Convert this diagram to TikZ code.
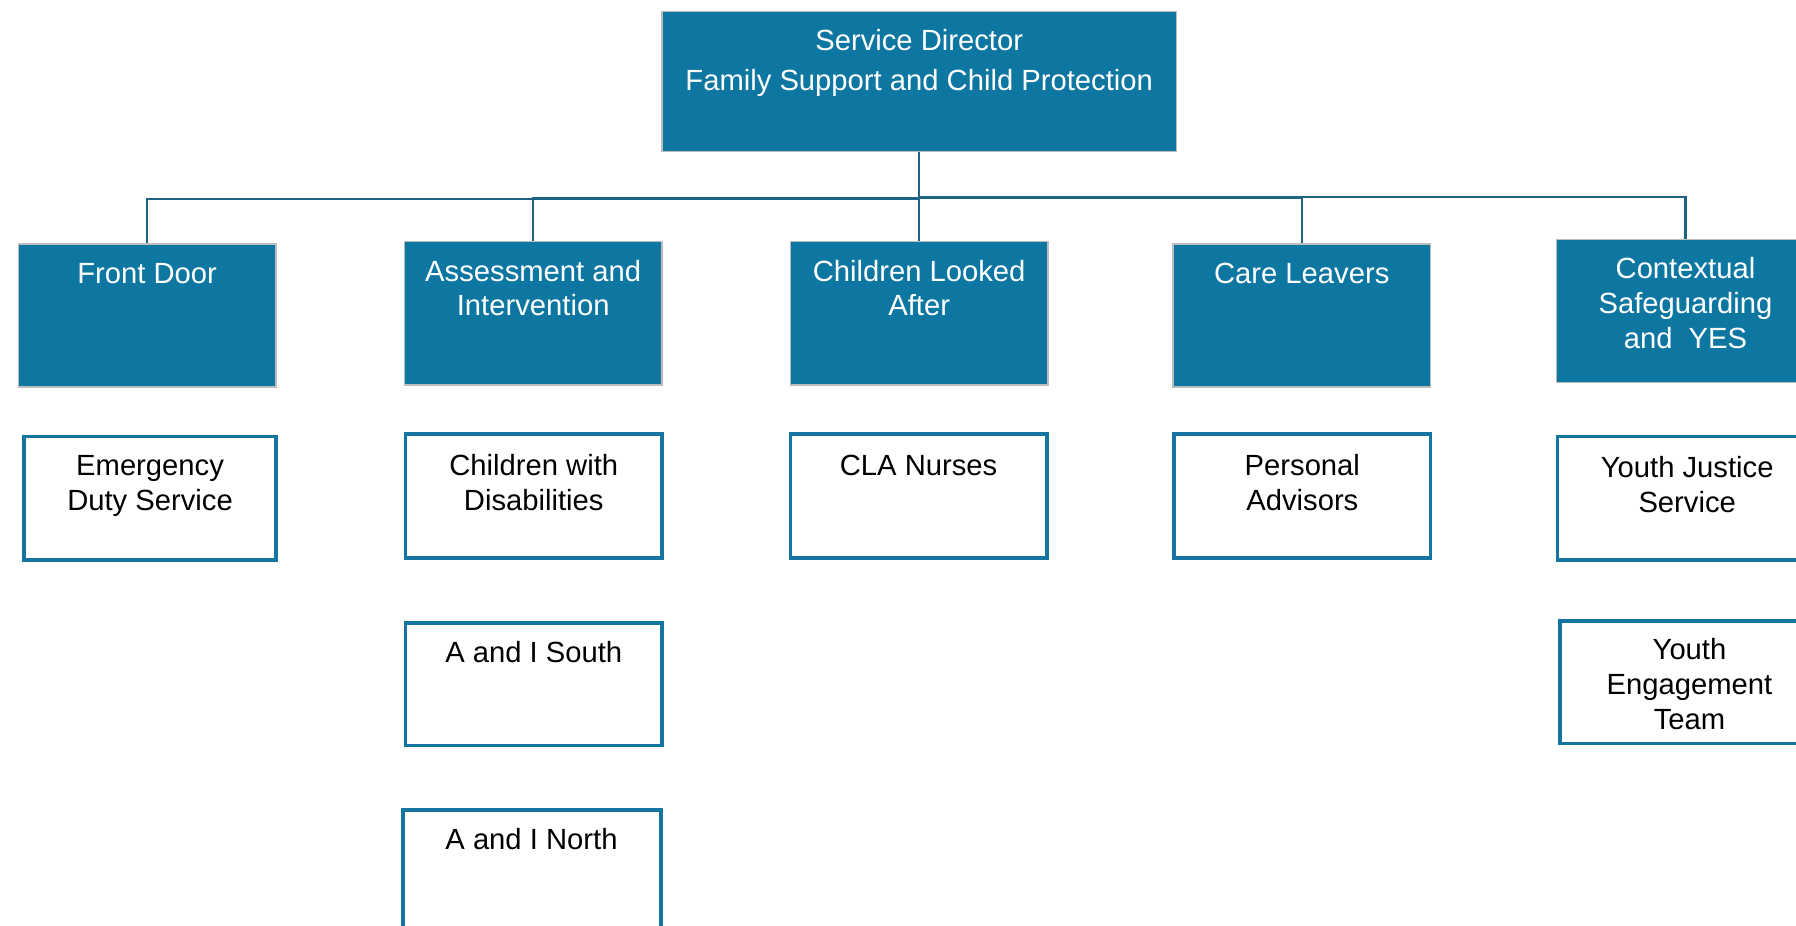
\documentclass[tikz,border=0pt]{standalone}
\usepackage{fontspec}
\setmainfont{Liberation Sans}
\definecolor{headfill}{HTML}{0E77A1}
\definecolor{headborder}{HTML}{BDBDBD}
\definecolor{subborder}{HTML}{1674A0}
\definecolor{connline}{HTML}{1E6384}
\begin{document}
\begin{tikzpicture}[x=1pt,y=-1pt,
  headbox/.style={draw=headborder, line width=1.2pt, fill=headfill, rectangle, inner sep=0pt},
  subbox/.style={draw=subborder, line width=3pt, fill=white, rectangle, inner sep=0pt},
  headtxt/.style={text=white, align=center, inner sep=0pt, font=\fontsize{25.5}{30.5}\selectfont},
  subtxt/.style={text=black, align=center, inner sep=0pt, font=\fontsize{25.5}{30.5}\selectfont},
  conn/.style={draw=connline, line width=1.8pt}]
\useasboundingbox (0,0) rectangle (1568,808);

% top box
\node[headbox, minimum width=449pt, minimum height=122pt] (sd) at (802.5,71) {};
\node[headtxt, font=\fontsize{25.5}{35}\selectfont] (sdt) at (802.5,55) {Service Director\\Family Support and Child Protection};

% level 1
\node[headbox, minimum width=225pt, minimum height=125pt] (fd) at (128.5,275.5) {};
\node[headbox, minimum width=225pt, minimum height=125pt] (ai) at (465.5,273.5) {};
\node[headbox, minimum width=225pt, minimum height=125pt] (cla) at (802.5,273.5) {};
\node[headbox, minimum width=225pt, minimum height=125pt] (cl) at (1136.5,275.5) {};
\node[headbox, minimum width=225pt, minimum height=125pt] (cs) at (1471.5,271.5) {};

\node[headtxt] (fdt) at (128.5,238.5) {Front Door};
\node[headtxt] (ait) at (465.5,251.5) {Assessment and\\Intervention};
\node[headtxt] (clat) at (802.5,251.5) {Children Looked\\After};
\node[headtxt] (clt) at (1136.5,238.5) {Care Leavers};
\node[headtxt] (cst) at (1471.5,264.5) {Contextual\\Safeguarding\\and\ \ YES};

% connectors
\draw[conn] (sd.south) -- ++(0,41.5) -| (fd.north);
\draw[conn] (sd.south) -- ++(0,40.5) -| (ai.north);
\draw[conn] (sd.south) -- (cla.north);
\draw[conn] (sd.south) -- ++(0,39.8) -| (cl.north);
\draw[conn] (sd.south) -- ++(0,39) -| (cs.north);

% level 2
\node[subbox, minimum width=220pt, minimum height=108pt] (eds) at (131,435) {};
\node[subbox, minimum width=224pt, minimum height=108pt] (cwd) at (466,433) {};
\node[subbox, minimum width=224pt, minimum height=108pt] (clan) at (802,433) {};
\node[subbox, minimum width=224pt, minimum height=108pt] (pa) at (1137,433) {};
\node[subbox, minimum width=224pt, minimum height=108pt] (yjs) at (1472,435) {};
\node[subbox, minimum width=224pt, minimum height=107pt] (ais) at (466,597.5) {};
\node[subbox, minimum width=224pt, minimum height=107pt] (yet) at (1474,595.5) {};
\node[subbox, minimum width=225pt, minimum height=107pt] (ain) at (464.5,760.5) {};

\node[subtxt] (edst) at (131,424) {Emergency\\Duty Service};
\node[subtxt] (cwdt) at (466,421) {Children with\\Disabilities};
\node[subtxt] (clant) at (802,406) {CLA Nurses};
\node[subtxt] (pat) at (1137,421) {Personal\\Advisors};
\node[subtxt] (yjst) at (1473,423) {Youth Justice\\Service};
\node[subtxt] (aist) at (466,569.5) {A and I South};
\node[subtxt] (yett) at (1475,597.5) {Youth\\Engagement\\Team};
\node[subtxt] (aint) at (464,732.5) {A and I North};
\end{tikzpicture}
\end{document}
